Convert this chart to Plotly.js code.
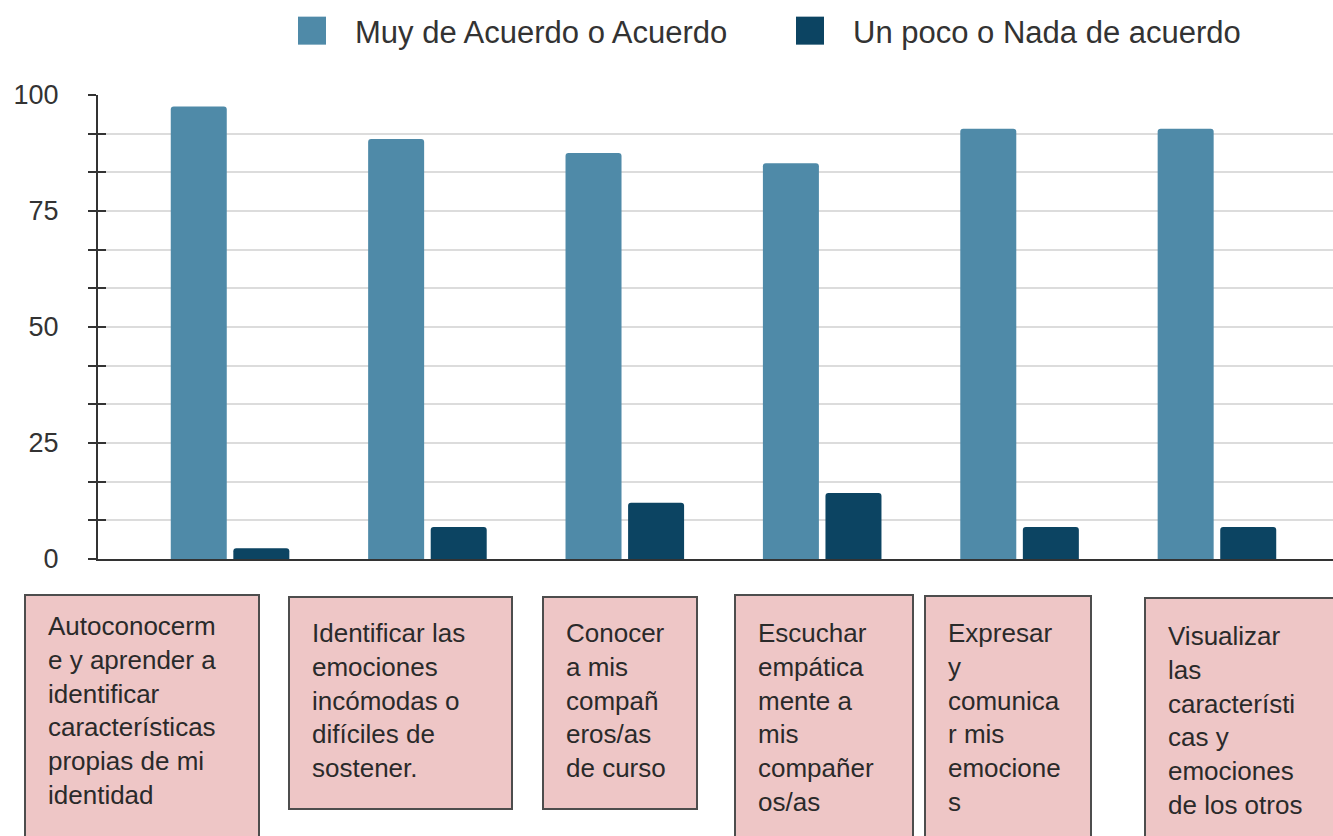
<!DOCTYPE html>
<html>
<head>
<meta charset="utf-8">
<script src="https://cdn.plot.ly/plotly-3.0.1.min.js"></script>
<style>
  html, body { margin: 0; padding: 0; background: #ffffff; }
  #chart { width: 1333px; height: 836px; }
</style>
</head>
<body>
<div id="chart"></div>
<script>
// ---- Data ----
const categories = [
  "Autoconocerme y aprender a identificar características propias de mi identidad",
  "Identificar las emociones incómodas o difíciles de sostener.",
  "Conocer a mis compañeros/as de curso",
  "Escuchar empáticamente a mis compañeros/as",
  "Expresar y comunicar mis emociones",
  "Visualizar las características y emociones de los otros"
];
const labelLines = [
  ["Autoconocerm", "e y aprender a", "identificar", "características", "propias de mi", "identidad"],
  ["Identificar las", "emociones", "incómodas o", "difíciles de", "sostener."],
  ["Conocer", "a mis", "compañ", "eros/as", "de curso"],
  ["Escuchar", "empática", "mente a", "mis", "compañer", "os/as"],
  ["Expresar", "y", "comunica", "r mis", "emocione", "s"],
  ["Visualizar", "las", "característi", "cas y", "emociones", "de los otros"]
];
const seriesNames = ["Muy de Acuerdo o Acuerdo", "Un poco o Nada de acuerdo"];
const acuerdo    = [97.5, 90.5, 87.5, 85.3, 92.7, 92.7];
const desacuerdo = [2.3, 6.9, 12.1, 14.2, 6.9, 6.9];
const yTickVals  = [0, 25, 50, 75, 100];
const yTickText  = ["0", "25", "50", "75", "100"];

// ---- Layout geometry (pixels) ----
const W = 1333, H = 836;
const M = { l: 98, r: 0, t: 95, b: 277 };
const plotW = W - M.l - M.r;
const plotH = H - M.t - M.b;
const px2x = p => (p - M.l) / plotW;
const px2y = p => (H - M.b - p) / plotH;

// label boxes: [left, right, top, bottom, text cap top] in pixels
const boxes = [
  [25, 259, 595, 850, 615],
  [289, 512, 597, 809, 622],
  [543, 697, 597, 809, 622],
  [735, 913, 595, 850, 622],
  [925, 1091, 596, 850, 622],
  [1145, 1345, 598, 850, 625]
];

const FONT = "Liberation Sans, Arial, Helvetica, sans-serif";
const colLight = "#4f8aa8";
const colDark = "#0c4462";

const data = [
  {
    type: "bar", name: seriesNames[0], x: categories, y: acuerdo,
    marker: { color: colLight, cornerradius: 3 },
    hoverinfo: "skip"
  },
  {
    type: "bar", name: seriesNames[1], x: categories, y: desacuerdo,
    marker: { color: colDark, cornerradius: 3 },
    hoverinfo: "skip"
  },
  { // carries the inner half of the crossing minor ticks
    type: "scatter", x: [], y: [], yaxis: "y2", showlegend: false, hoverinfo: "skip"
  }
];

const shapes = boxes.map(b => ({
  type: "rect", xref: "paper", yref: "paper",
  x0: px2x(b[0]), x1: px2x(b[1]), y0: px2y(b[2]), y1: px2y(b[3]),
  fillcolor: "#eec6c6",
  line: { color: "#4d4d4d", width: 2 },
  layer: "above"
}));

const annotations = labelLines.map((lines, i) => {
  const b = boxes[i];
  return {
    xref: "paper", yref: "paper",
    x: px2x(b[0] + 22), y: px2y(b[4] - 5),
    xanchor: "left", yanchor: "top",
    borderpad: 0,
    text: lines.join("<br>"),
    align: "left",
    showarrow: false,
    font: { family: FONT, size: 26, color: "#2a2a2a" }
  };
});

const layout = {
  width: W, height: H,
  margin: M,
  paper_bgcolor: "#ffffff",
  plot_bgcolor: "#ffffff",
  font: { family: FONT, color: "#333333" },
  barmode: "group",
  bargap: 0.366,
  bargroupgap: 0.105,
  showlegend: true,
  legend: {
    orientation: "h",
    x: px2x(269), xanchor: "left",
    y: 1 + (M.t - 31) / plotH, yanchor: "middle",
    font: { family: FONT, size: 31, color: "#333333" },
    itemwidth: 76,
    entrywidth: 407, entrywidthmode: "pixels",
    bgcolor: "rgba(0,0,0,0)"
  },
  xaxis: {
    type: "category",
    range: [-0.669, 5.588],
    showticklabels: false,
    ticks: "",
    showgrid: false,
    zeroline: false,
    showline: true, linecolor: "#333333", linewidth: 2
  },
  yaxis: {
    range: [0, 100],
    tickvals: yTickVals, ticktext: yTickText,
    ticks: "",
    ticklabelstandoff: 32,
    tickfont: { family: FONT, size: 27, color: "#333333" },
    showline: true, linecolor: "#333333", linewidth: 2,
    showgrid: true, gridcolor: "#dcdcdc", gridwidth: 2,
    zeroline: false,
    minor: {
      dtick: 25 / 3, tick0: 0,
      showgrid: true, gridcolor: "#dcdcdc", gridwidth: 2,
      ticks: "outside", ticklen: 8, tickcolor: "#333333", tickwidth: 2
    }
  },
  yaxis2: {
    overlaying: "y", anchor: "x", side: "left",
    range: [0, 100],
    showticklabels: false, ticks: "",
    showgrid: false, zeroline: false, showline: false,
    minor: {
      dtick: 25 / 3, tick0: 0, showgrid: false,
      ticks: "inside", ticklen: 8, tickcolor: "#333333", tickwidth: 2
    }
  },
  shapes: shapes,
  annotations: annotations
};

Plotly.newPlot("chart", data, layout, { displayModeBar: false, staticPlot: true }).then(gd => {
  // enlarge the legend swatches to the reference's square size
  gd.querySelectorAll(".legend .legendpoints path").forEach(p => {
    p.setAttribute("d", "M14,14H-14V-14H14Z");
  });
});
</script>
</body>
</html>
